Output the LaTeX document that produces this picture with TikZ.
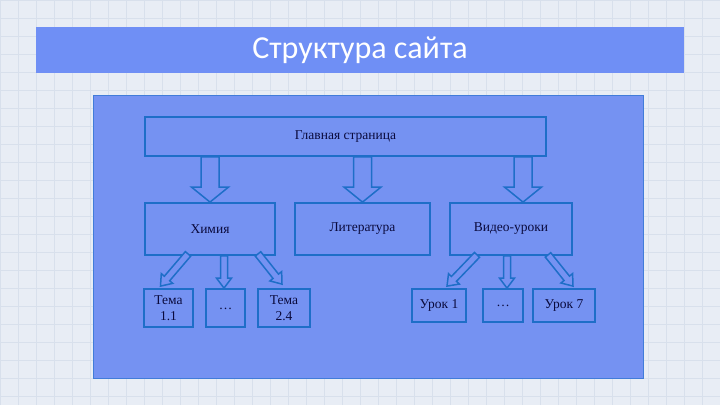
\documentclass[tikz,border=0pt]{standalone}
\usepackage{fontspec}
\setmainfont{Liberation Serif}
\newfontfamily\titlefont{Carlito}
\usetikzlibrary{calc}
\definecolor{bgc}{HTML}{E8EDF5}
\definecolor{gridc}{HTML}{D8E0EC}
\definecolor{barc}{HTML}{6F8FF5}
\definecolor{panelc}{HTML}{7592F2}
\definecolor{edgec}{HTML}{1E6EC8}
\definecolor{txtc}{HTML}{0A0A3C}
\tikzset{
  box/.style={draw=edgec, line width=1.8pt, fill=panelc, inner sep=0pt,
    font=\fontsize{13.5}{15.5}\selectfont, text=txtc, align=center},
  barrow/.style={draw=edgec, line width=1.5pt, fill=panelc, line join=miter},
}
\newcommand\barr[5]{%
  \draw[barrow] ($(#1)!#3!90:(#2)$) -- ($($(#2)!#5!(#1)$)!#3!-90:(#1)$)
    -- ($($(#2)!#5!(#1)$)!#4!-90:(#1)$) -- (#2)
    -- ($($(#2)!#5!(#1)$)!#4!90:(#1)$) -- ($($(#2)!#5!(#1)$)!#3!90:(#1)$)
    -- ($(#1)!#3!-90:(#2)$) -- cycle;}
\begin{document}
\begin{tikzpicture}[x=1pt,y=-1pt]
\useasboundingbox (0,0) rectangle (720,405);
\fill[bgc] (0,0) rectangle (720,405);
\draw[gridc, line width=0.4pt, step=18pt] (0,0) grid (720,405);
% title bar
\node[fill=barc, minimum width=648pt, minimum height=46pt, inner sep=0pt,
  text=white, font=\titlefont\fontsize{32}{36}\selectfont] (title) at (360,50) {Структура сайта};
% panel
\node[draw=edgec!60!panelc, line width=1pt, fill=panelc, minimum width=550pt,
  minimum height=283pt, inner sep=0pt] (panel) at (368,236.5) {};
% boxes
\node[box, minimum width=401pt, minimum height=39pt] (main) at (345.5,136.5) {Главная страница};
\node[box, minimum width=130pt, minimum height=52pt] (chem) at (210,229) {Химия};
\node[box, minimum width=135pt, minimum height=52pt] (lit) at (362.5,229) {Литература};
\node[box, minimum width=122pt, minimum height=52pt] (vid) at (511,229) {Видео-уроки};
\node[box, minimum width=49pt, minimum height=38pt] (t11) at (168.5,308) {Тема\\1.1};
\node[box, minimum width=39pt, minimum height=38pt] (d1) at (225.5,308) {\raisebox{-0.6ex}{…}};
\node[box, minimum width=52pt, minimum height=38pt] (t24) at (284,308) {Тема\\2.4};
\node[box, minimum width=54pt, minimum height=33pt] (u1) at (439,305.5) {Урок 1};
\node[box, minimum width=40pt, minimum height=33pt] (d2) at (503,305.5) {…};
\node[box, minimum width=62pt, minimum height=33pt] (u7) at (564,305.5) {Урок 7};
% connector points
\coordinate (m1s) at (main.south -| chem.north);
\coordinate (m2s) at (main.south -| lit.north);
\coordinate (m3e) at ([xshift=12pt]vid.north);
\coordinate (m3s) at (main.south -| m3e);
\coordinate (c1s) at ([xshift=-22pt,yshift=2pt]chem.south);
\coordinate (c1e) at ([xshift=-8pt,yshift=2pt]t11.north);
\coordinate (c2e) at ([xshift=-1.5pt]d1.north);
\coordinate (c2s) at (chem.south -| c2e);
\coordinate (c3s) at ([xshift=48pt,yshift=2pt]chem.south);
\coordinate (c3e) at ([xshift=-2pt,yshift=4pt]t24.north);
\coordinate (v1s) at ([xshift=-34pt,yshift=1pt]vid.south);
\coordinate (v1e) at ([xshift=8pt,yshift=2pt]u1.north);
\coordinate (v2e) at ([xshift=4pt]d2.north);
\coordinate (v2s) at (vid.south -| v2e);
\coordinate (v3s) at ([xshift=37pt,yshift=1pt]vid.south);
\coordinate (v3e) at ([xshift=9pt,yshift=2pt]u7.north);
% block arrows
\barr{m1s}{chem.north}{9pt}{18.5pt}{15pt}
\barr{m2s}{lit.north}{9pt}{18.5pt}{15pt}
\barr{m3s}{m3e}{9pt}{18.5pt}{15pt}
\barr{c1s}{c1e}{3.5pt}{7.5pt}{10pt}
\barr{c2s}{c2e}{3.5pt}{7.5pt}{10pt}
\barr{c3s}{c3e}{3.5pt}{7.5pt}{10pt}
\barr{v1s}{v1e}{3.5pt}{7.5pt}{10pt}
\barr{v2s}{v2e}{3.5pt}{7.5pt}{10pt}
\barr{v3s}{v3e}{3.5pt}{7.5pt}{10pt}
\end{tikzpicture}
\end{document}
